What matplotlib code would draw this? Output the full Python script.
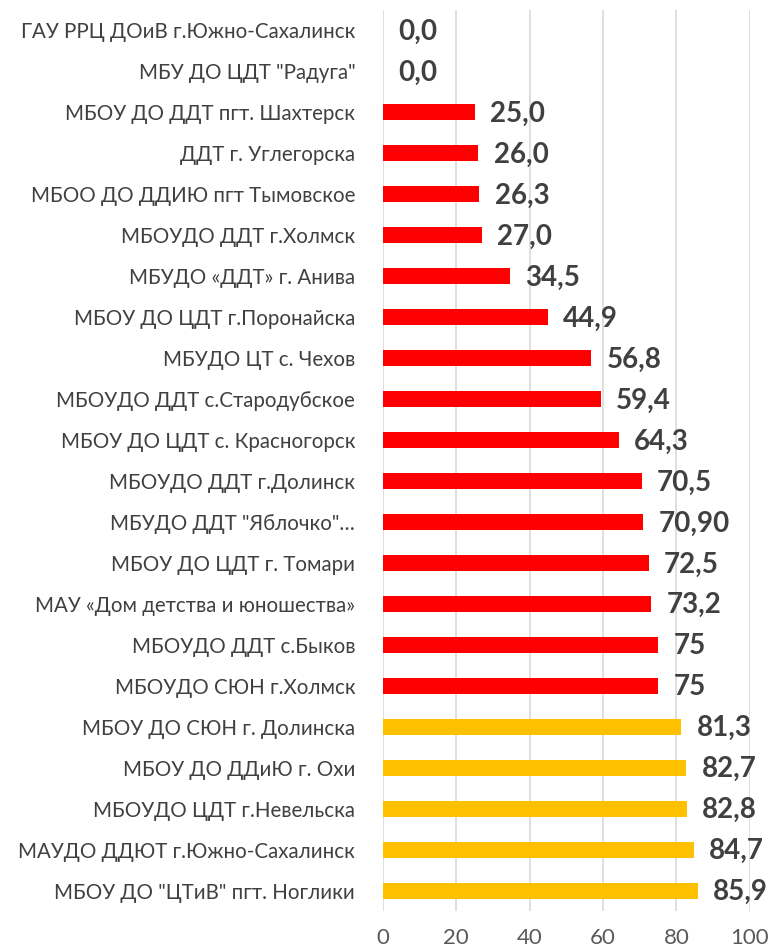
import matplotlib.pyplot as plt
import numpy as np

plt.rcParams['font.family'] = ['Lato', 'DejaVu Sans']

# Data, top to bottom as in the chart
orgs = [
    'ГАУ РРЦ ДОиВ г.Южно-Сахалинск',
    'МБУ ДО ЦДТ "Радуга"',
    'МБОУ ДО ДДТ пгт. Шахтерск',
    'ДДТ г. Углегорска',
    'МБОО ДО ДДИЮ пгт Тымовское',
    'МБОУДО ДДТ г.Холмск',
    'МБУДО «ДДТ» г. Анива',
    'МБОУ ДО ЦДТ г.Поронайска',
    'МБУДО ЦТ с. Чехов',
    'МБОУДО ДДТ с.Стародубское',
    'МБОУ ДО ЦДТ с. Красногорск',
    'МБОУДО ДДТ г.Долинск',
    'МБУДО ДДТ "Яблочко"…',
    'МБОУ ДО ЦДТ г. Томари',
    'МАУ «Дом детства и юношества»',
    'МБОУДО ДДТ с.Быков',
    'МБОУДО СЮН г.Холмск',
    'МБОУ ДО СЮН г. Долинска',
    'МБОУ ДО ДДиЮ г. Охи',
    'МБОУДО ЦДТ г.Невельска',
    'МАУДО ДДЮТ г.Южно-Сахалинск',
    'МБОУ ДО "ЦТиВ" пгт. Ноглики',
]
values = [0.0, 0.0, 25.0, 26.0, 26.3, 27.0, 34.5, 44.9, 56.8, 59.4, 64.3,
          70.5, 70.9, 72.5, 73.2, 75, 75, 81.3, 82.7, 82.8, 84.7, 85.9]
value_labels = ['0,0', '0,0', '25,0', '26,0', '26,3', '27,0', '34,5', '44,9',
                '56,8', '59,4', '64,3', '70,5', '70,90', '72,5', '73,2', '75',
                '75', '81,3', '82,7', '82,8', '84,7', '85,9']
xticks = [0, 20, 40, 60, 80, 100]

colors = ['#FFC000' if v > 80 else '#FF0000' for v in values]

fig = plt.figure(figsize=(7.69, 9.52), dpi=100)
ax = fig.add_axes([0.498, 0.0426, 0.477, 0.9474])

y = np.arange(len(orgs))
ax.barh(y, values, height=0.37, color=colors, zorder=3)

for yi, v, lab in zip(y, values, value_labels):
    ax.annotate(lab, xy=(v, yi), xytext=(11, -1), textcoords='offset points',
                ha='left', va='center', fontsize=20, fontweight='bold',
                color='#404040', zorder=4, annotation_clip=False)

ax.set_xlim(0, 100)
ax.set_ylim(len(orgs) - 0.5, -0.5)
ax.set_xticks(xticks)
ax.set_xticklabels([str(t) for t in xticks], fontsize=16, color='#595959')
ax.set_yticks(y)
ax.set_yticklabels(orgs, fontsize=14.8, color='#404040')
ax.tick_params(axis='both', length=0)
ax.tick_params(axis='y', pad=20)
ax.tick_params(axis='x', pad=12)
ax.grid(axis='x', color='#D9D9D9', linewidth=1.2, zorder=0)
for s in ax.spines.values():
    s.set_visible(False)

fig.savefig('out.png', dpi=100, facecolor='white')
